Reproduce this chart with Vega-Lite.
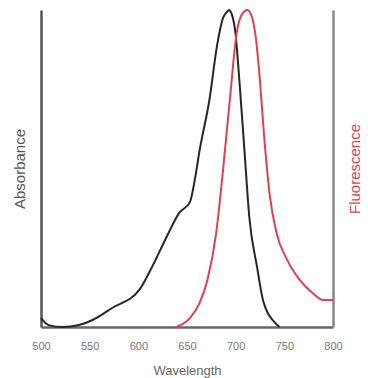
{
  "$schema": "https://vega.github.io/schema/vega-lite/v6.json",
  "width": 292,
  "height": 317,
  "autosize": "none",
  "padding": {"left": 41, "top": 10, "right": 35, "bottom": 51},
  "background": "white",
  "config": {
    "view": {"stroke": null},
    "font": "Liberation Sans"
  },
  "datasets": {
    "absorbance": [
      {"wl": 500, "v": 0.028}, {"wl": 508, "v": 0.006}, {"wl": 522, "v": 0.0}, {"wl": 539, "v": 0.006},
      {"wl": 553, "v": 0.022}, {"wl": 573, "v": 0.06}, {"wl": 601, "v": 0.117}, {"wl": 614, "v": 0.189},
      {"wl": 629, "v": 0.284}, {"wl": 642, "v": 0.36}, {"wl": 653, "v": 0.394}, {"wl": 658, "v": 0.464},
      {"wl": 663, "v": 0.558}, {"wl": 673, "v": 0.716}, {"wl": 681, "v": 0.89}, {"wl": 687, "v": 0.975},
      {"wl": 692, "v": 0.997}, {"wl": 693, "v": 1.0}, {"wl": 696, "v": 0.987}, {"wl": 700, "v": 0.921},
      {"wl": 704, "v": 0.77}, {"wl": 709, "v": 0.558}, {"wl": 714, "v": 0.347}, {"wl": 722, "v": 0.189},
      {"wl": 728, "v": 0.085}, {"wl": 733, "v": 0.044}, {"wl": 738, "v": 0.022}, {"wl": 745, "v": 0.0}
    ],
    "fluorescence": [
      {"wl": 639, "v": 0.0}, {"wl": 653, "v": 0.028}, {"wl": 663, "v": 0.076}, {"wl": 671, "v": 0.148},
      {"wl": 680, "v": 0.297}, {"wl": 687, "v": 0.495}, {"wl": 694, "v": 0.716}, {"wl": 701, "v": 0.927},
      {"wl": 706, "v": 0.984}, {"wl": 712, "v": 1.0}, {"wl": 717, "v": 0.975}, {"wl": 721, "v": 0.905},
      {"wl": 724, "v": 0.811}, {"wl": 730, "v": 0.574}, {"wl": 735, "v": 0.416}, {"wl": 742, "v": 0.297},
      {"wl": 753, "v": 0.211}, {"wl": 766, "v": 0.148}, {"wl": 779, "v": 0.107}, {"wl": 790, "v": 0.085},
      {"wl": 800, "v": 0.085}
    ]
  },
  "resolve": {"scale": {"y": "independent"}, "axis": {"y": "independent"}},
  "layer": [
    {
      "data": {"name": "absorbance"},
      "mark": {"type": "line", "color": "#262626", "strokeWidth": 2, "interpolate": "monotone"},
      "encoding": {
        "x": {
          "field": "wl", "type": "quantitative",
          "scale": {"domain": [500, 800], "nice": false},
          "axis": {
            "values": [500, 550, 600, 650, 700, 750, 800],
            "ticks": false, "grid": false, "labelFlush": false,
            "domainColor": "#666666", "domainWidth": 2.5,
            "labelColor": "#777777", "labelFontSize": 11, "labelPadding": 13,
            "title": "Wavelength", "titleColor": "#666666", "titleFontSize": 13,
            "titleFontWeight": "normal", "titlePadding": 13
          }
        },
        "y": {
          "field": "v", "type": "quantitative",
          "scale": {"domain": [0, 1], "nice": false},
          "axis": {
            "orient": "left", "labels": false, "ticks": false, "grid": false,
            "domainColor": "#555555", "domainWidth": 2.5,
            "title": "Absorbance", "titleColor": "#555555", "titleFontSize": 15,
            "titleFontWeight": "normal", "titlePadding": 14
          }
        }
      }
    },
    {
      "data": {"name": "fluorescence"},
      "mark": {"type": "line", "color": "#e0414f", "strokeWidth": 2, "interpolate": "monotone"},
      "encoding": {
        "x": {"field": "wl", "type": "quantitative"},
        "y": {
          "field": "v", "type": "quantitative",
          "scale": {"domain": [0, 1], "nice": false},
          "axis": {
            "orient": "right", "labels": false, "ticks": false, "grid": false,
            "domainColor": "#888888", "domainWidth": 2.5,
            "title": "Fluorescence", "titleColor": "#e0414f", "titleFontSize": 15,
            "titleFontWeight": "normal", "titlePadding": 29, "titleAngle": 270
          }
        }
      }
    }
  ]
}
